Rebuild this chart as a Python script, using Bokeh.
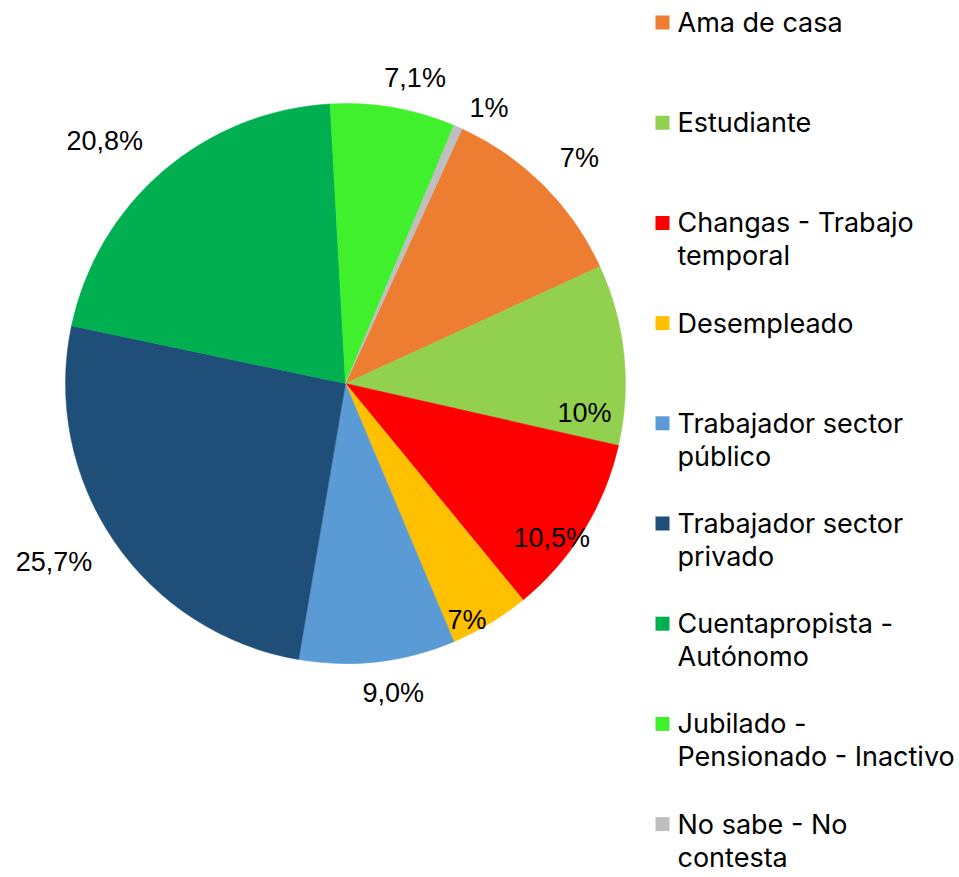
import math
from bokeh.plotting import figure
from bokeh.models import Range1d, ColumnDataSource
from bokeh.core.properties import value
from bokeh.embed import file_html
from bokeh.resources import INLINE

# ---- data ----
categories = ["Ama de casa", "Estudiante", "Changas - Trabajo\ntemporal", "Desempleado",
              "Trabajador sector\npúblico", "Trabajador sector\nprivado",
              "Cuentapropista -\nAutónomo", "Jubilado -\nPensionado - Inactivo",
              "No sabe - No\ncontesta"]
shares = [11.3, 10.4, 10.5, 4.6, 9.0, 25.6, 20.8, 7.2, 0.5]
labels = ["7%", "10%", "10,5%", "7%", "9,0%", "25,7%", "20,8%", "7,1%", "1%"]
colors = ["#ED7D31", "#92D050", "#FF0000", "#FFC000", "#5B9BD5", "#1F4E79",
          "#00B050", "#41F02C", "#BFBFBF"]

# ---- layout (label placement per slice, like Excel best-fit) ----
label_radius = [1.16, 0.86, 0.92, 0.95, 1.12, 1.22, 1.22, 1.12, 1.11]
label_nudge_deg = [1.1, 12.9, 5.1, 3.9, -2.2, 2.8, -4.2, 3.0, 3.8]

W, H = 959, 877
cx, cy, R = 345, H - 383, 280
first_bearing = 24.6  # degrees clockwise from north

p = figure(width=W, height=H, x_range=Range1d(0, W), y_range=Range1d(0, H),
           output_backend="svg", toolbar_location=None, min_border=0)
p.axis.visible = False
p.grid.visible = False
p.outline_line_color = None
p.background_fill_color = "white"

total = sum(shares)
starts, ends, lx, ly = [], [], [], []
b = first_bearing
for i, s in enumerate(shares):
    span = s / total * 360.0
    b0, b1 = b, b + span
    starts.append(math.radians(90 - b1))
    ends.append(math.radians(90 - b0))
    mid = (b0 + b1) / 2 + label_nudge_deg[i]
    r = R * label_radius[i]
    lx.append(cx + r * math.sin(math.radians(mid)))
    ly.append(cy + r * math.cos(math.radians(mid)))
    b = b1

src = ColumnDataSource(dict(start=starts, end=ends, color=colors))
p.wedge(x=cx, y=cy, radius=R, start_angle="start", end_angle="end",
        fill_color="color", line_color="color", line_width=0.5, source=src)

p.text(x=lx + [0] * 0, y=ly, text=labels, text_align="center", text_baseline="middle",
       text_font=value("Liberation Sans"), text_font_size="27px", text_color="black")

# ---- legend (manual) ----
leg_x = 655
leg_top = H - 22
step = 100.2
line_gap = 33
sq_x, sq_y, tx, ty, tt = [], [], [], [], []
for i, name in enumerate(categories):
    yc = leg_top - i * step
    sq_x.append(leg_x + 7)
    sq_y.append(yc)
    for j, line in enumerate(name.split("\n")):
        tx.append(leg_x + 22)
        ty.append(yc - j * line_gap)
        tt.append(line)
p.rect(x=sq_x, y=sq_y, width=14, height=14, fill_color=colors, line_color=None)
p.text(x=tx, y=ty, text=tt, text_align="left", text_baseline="alphabetic",
       text_font=value("Inter"), text_font_size="27px", text_color="black")

open("out.html", "w").write(file_html(p, INLINE))
